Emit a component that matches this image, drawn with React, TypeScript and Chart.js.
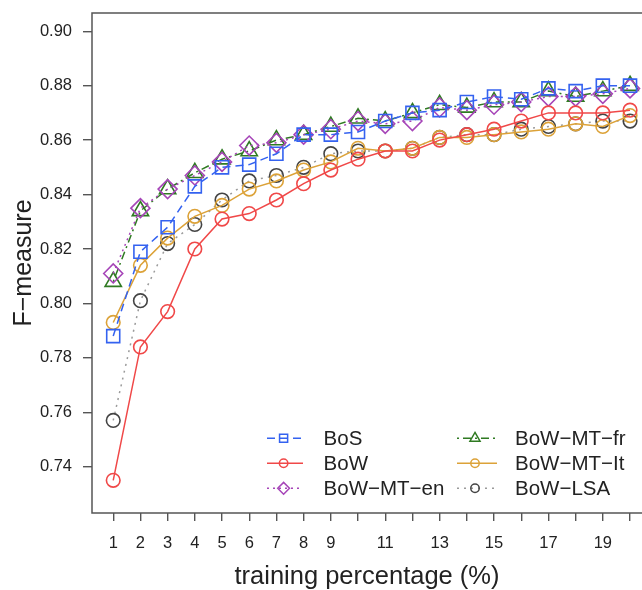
import React, { useEffect, useRef } from 'react';
import { Chart, registerables } from 'chart.js';
import { drawPoint } from 'chart.js/helpers';

Chart.register(...registerables);

const xValues = [1, 2, 3, 4, 5, 6, 7, 8, 9, 10, 11, 12, 13, 14, 15, 16, 17, 18, 19, 20];
const labeledTicks = [1, 2, 3, 4, 5, 6, 7, 8, 9, 11, 13, 15, 17, 19];
const yTicks = [0.74, 0.76, 0.78, 0.8, 0.82, 0.84, 0.86, 0.88, 0.9];

const seriesNames = ['BoS', 'BoW', 'BoW\u2212MT\u2212en', 'BoW\u2212MT\u2212fr', 'BoW\u2212MT\u2212It', 'BoW\u2212LSA'];

const bos = [0.788, 0.819, 0.828, 0.843, 0.850, 0.851, 0.855, 0.862, 0.862, 0.863, 0.867, 0.870, 0.871, 0.874, 0.876, 0.875, 0.879, 0.878, 0.880, 0.880];
const bow = [0.735, 0.784, 0.797, 0.820, 0.831, 0.833, 0.838, 0.844, 0.849, 0.853, 0.856, 0.856, 0.860, 0.862, 0.864, 0.867, 0.870, 0.870, 0.870, 0.871];
const bowMtEn = [0.811, 0.835, 0.842, 0.847, 0.852, 0.858, 0.859, 0.862, 0.864, 0.867, 0.866, 0.867, 0.872, 0.871, 0.873, 0.874, 0.876, 0.876, 0.877, 0.879];
const bowMtFr = [0.808, 0.834, 0.842, 0.848, 0.853, 0.856, 0.860, 0.862, 0.865, 0.868, 0.867, 0.870, 0.873, 0.872, 0.874, 0.874, 0.878, 0.876, 0.878, 0.880];
const bowMtIt = [0.793, 0.814, 0.824, 0.832, 0.836, 0.842, 0.845, 0.849, 0.852, 0.857, 0.856, 0.857, 0.861, 0.861, 0.862, 0.863, 0.864, 0.866, 0.865, 0.869];
const bowLsa = [0.757, 0.801, 0.822, 0.829, 0.838, 0.845, 0.847, 0.850, 0.855, 0.856, 0.856, 0.857, 0.861, 0.862, 0.862, 0.864, 0.865, 0.866, 0.867, 0.867];

const seriesValues = [bos, bow, bowMtEn, bowMtFr, bowMtIt, bowLsa];

const FONT = '"Liberation Sans", Arial, Helvetica, sans-serif';

const styles = [
  { line: '#3462f0', point: '#3462f0', dash: [8, 5], shape: 'rect', r: 9.2 },
  { line: '#f04848', point: '#f04848', dash: [], shape: 'circle', r: 6.8 },
  { line: '#a645b8', point: '#a645b8', dash: [2, 4], shape: 'rectRot', r: 9.5 },
  { line: '#2f7a22', point: '#2f7a22', dash: [2, 4, 8, 4], shape: 'triangle', r: 9.4 },
  { line: '#dca238', point: '#dca238', dash: [], shape: 'circle', r: 6.8 },
  { line: '#9a9a9a', point: '#444444', dash: [2, 5], shape: 'circle', r: 6.8 },
];

const boxPlugin = {
  id: 'boxPlugin',
  afterDatasetsDraw(chart: any) {
    const { ctx, chartArea } = chart;
    ctx.save();
    ctx.strokeStyle = '#555555';
    ctx.lineWidth = 1.5;
    ctx.strokeRect(chartArea.left, chartArea.top, chartArea.right - chartArea.left + 40, chartArea.bottom - chartArea.top);
    ctx.restore();
  },
};

const legendPlugin = {
  id: 'customLegend',
  afterDraw(chart: any) {
    const { ctx, chartArea } = chart;
    const colLine = [[175, 211], [365, 405]];
    const colMarker = [191.6, 383];
    const colText = [231.6, 423];
    const rowY = [-74.7, -49.7, -24.7];
    ctx.save();
    seriesNames.forEach((name, i) => {
      const col = i < 3 ? 0 : 1;
      const row = i % 3;
      const st = styles[i];
      const y = chartArea.bottom + rowY[row];
      ctx.strokeStyle = st.line;
      ctx.lineWidth = 1.5;
      ctx.setLineDash(st.dash);
      ctx.beginPath();
      ctx.moveTo(chartArea.left + colLine[col][0], y);
      ctx.lineTo(chartArea.left + colLine[col][1], y);
      ctx.stroke();
      ctx.setLineDash([]);
      ctx.strokeStyle = st.point;
      ctx.fillStyle = 'rgba(255,255,255,0)';
      ctx.lineWidth = 1.5;
      drawPoint(ctx, { pointStyle: st.shape, radius: st.r * 0.62, rotation: 0, borderWidth: 1.5 } as any, chartArea.left + colMarker[col], y);
      ctx.fillStyle = '#222222';
      ctx.font = `20.5px ${FONT}`;
      ctx.textAlign = 'left';
      ctx.textBaseline = 'middle';
      ctx.fillText(name, chartArea.left + colText[col], y + 1);
    });
    ctx.restore();
  },
};

export default function App() {
  const canvasRef = useRef<HTMLCanvasElement | null>(null);

  useEffect(() => {
    if (!canvasRef.current) return;
    const datasets = seriesNames.map((name, i) => ({
      label: name,
      data: xValues.map((x, j) => ({ x, y: seriesValues[i][j] })),
      borderColor: styles[i].line,
      borderWidth: 1.5,
      borderDash: styles[i].dash,
      pointStyle: styles[i].shape,
      pointRadius: styles[i].r,
      pointBorderColor: styles[i].point,
      pointBackgroundColor: 'rgba(255,255,255,0)',
      pointBorderWidth: 1.6,
      fill: false,
      tension: 0,
    }));

    const chart = new Chart(canvasRef.current, {
      type: 'line',
      data: { datasets },
      plugins: [boxPlugin, legendPlugin],
      options: {
        responsive: false,
        animation: false,
        devicePixelRatio: 1,
        layout: { autoPadding: false, padding: { top: 13, left: 0, right: 0, bottom: 0 } },
        plugins: { legend: { display: false }, tooltip: { enabled: false } },
        scales: {
          x: {
            type: 'linear',
            min: 0.22,
            max: 20.44,
            afterBuildTicks: (scale: any) => {
              scale.ticks = xValues.map((v) => ({ value: v }));
            },
            afterFit: (scale: any) => {
              scale.height = 77;
              scale.paddingLeft = 0;
              scale.paddingRight = 0;
            },
            ticks: {
              autoSkip: false,
              maxRotation: 0,
              padding: 13,
              color: '#222222',
              font: { family: FONT, size: 16.5 },
              callback: (v: any) => (labeledTicks.includes(Number(v)) ? String(v) : ''),
            },
            grid: { drawOnChartArea: false, drawTicks: true, tickLength: 8, color: '#555555', lineWidth: 1.4 },
            border: { display: false },
            title: {
              display: true,
              text: 'training percentage (%)',
              color: '#222222',
              font: { family: FONT, size: 25.5, lineHeight: 1 },
              padding: { top: 0, bottom: 0 },
            },
          },
          y: {
            type: 'linear',
            min: 0.723,
            max: 0.9067,
            afterBuildTicks: (scale: any) => {
              scale.ticks = yTicks.map((v) => ({ value: v }));
            },
            afterFit: (scale: any) => {
              scale.width = 92;
              scale.paddingTop = 0;
              scale.paddingBottom = 0;
            },
            ticks: {
              padding: 11,
              color: '#222222',
              font: { family: FONT, size: 16.5 },
              callback: (v: any) => Number(v).toFixed(2),
            },
            grid: { drawOnChartArea: false, drawTicks: true, tickLength: 9, color: '#555555', lineWidth: 1.4 },
            border: { display: false },
            title: {
              display: true,
              text: 'F\u2212measure',
              color: '#222222',
              font: { family: FONT, size: 25, lineHeight: 1 },
              padding: { top: 12, bottom: 0 },
            },
          },
        },
      },
    } as any);
    return () => chart.destroy();
  }, []);

  return (
    <div style={{ position: 'absolute', left: 0, top: 0, width: 642, height: 590, background: '#ffffff' }}>
      <canvas ref={canvasRef} width={642} height={590} style={{ display: 'block' }} />
    </div>
  );
}
